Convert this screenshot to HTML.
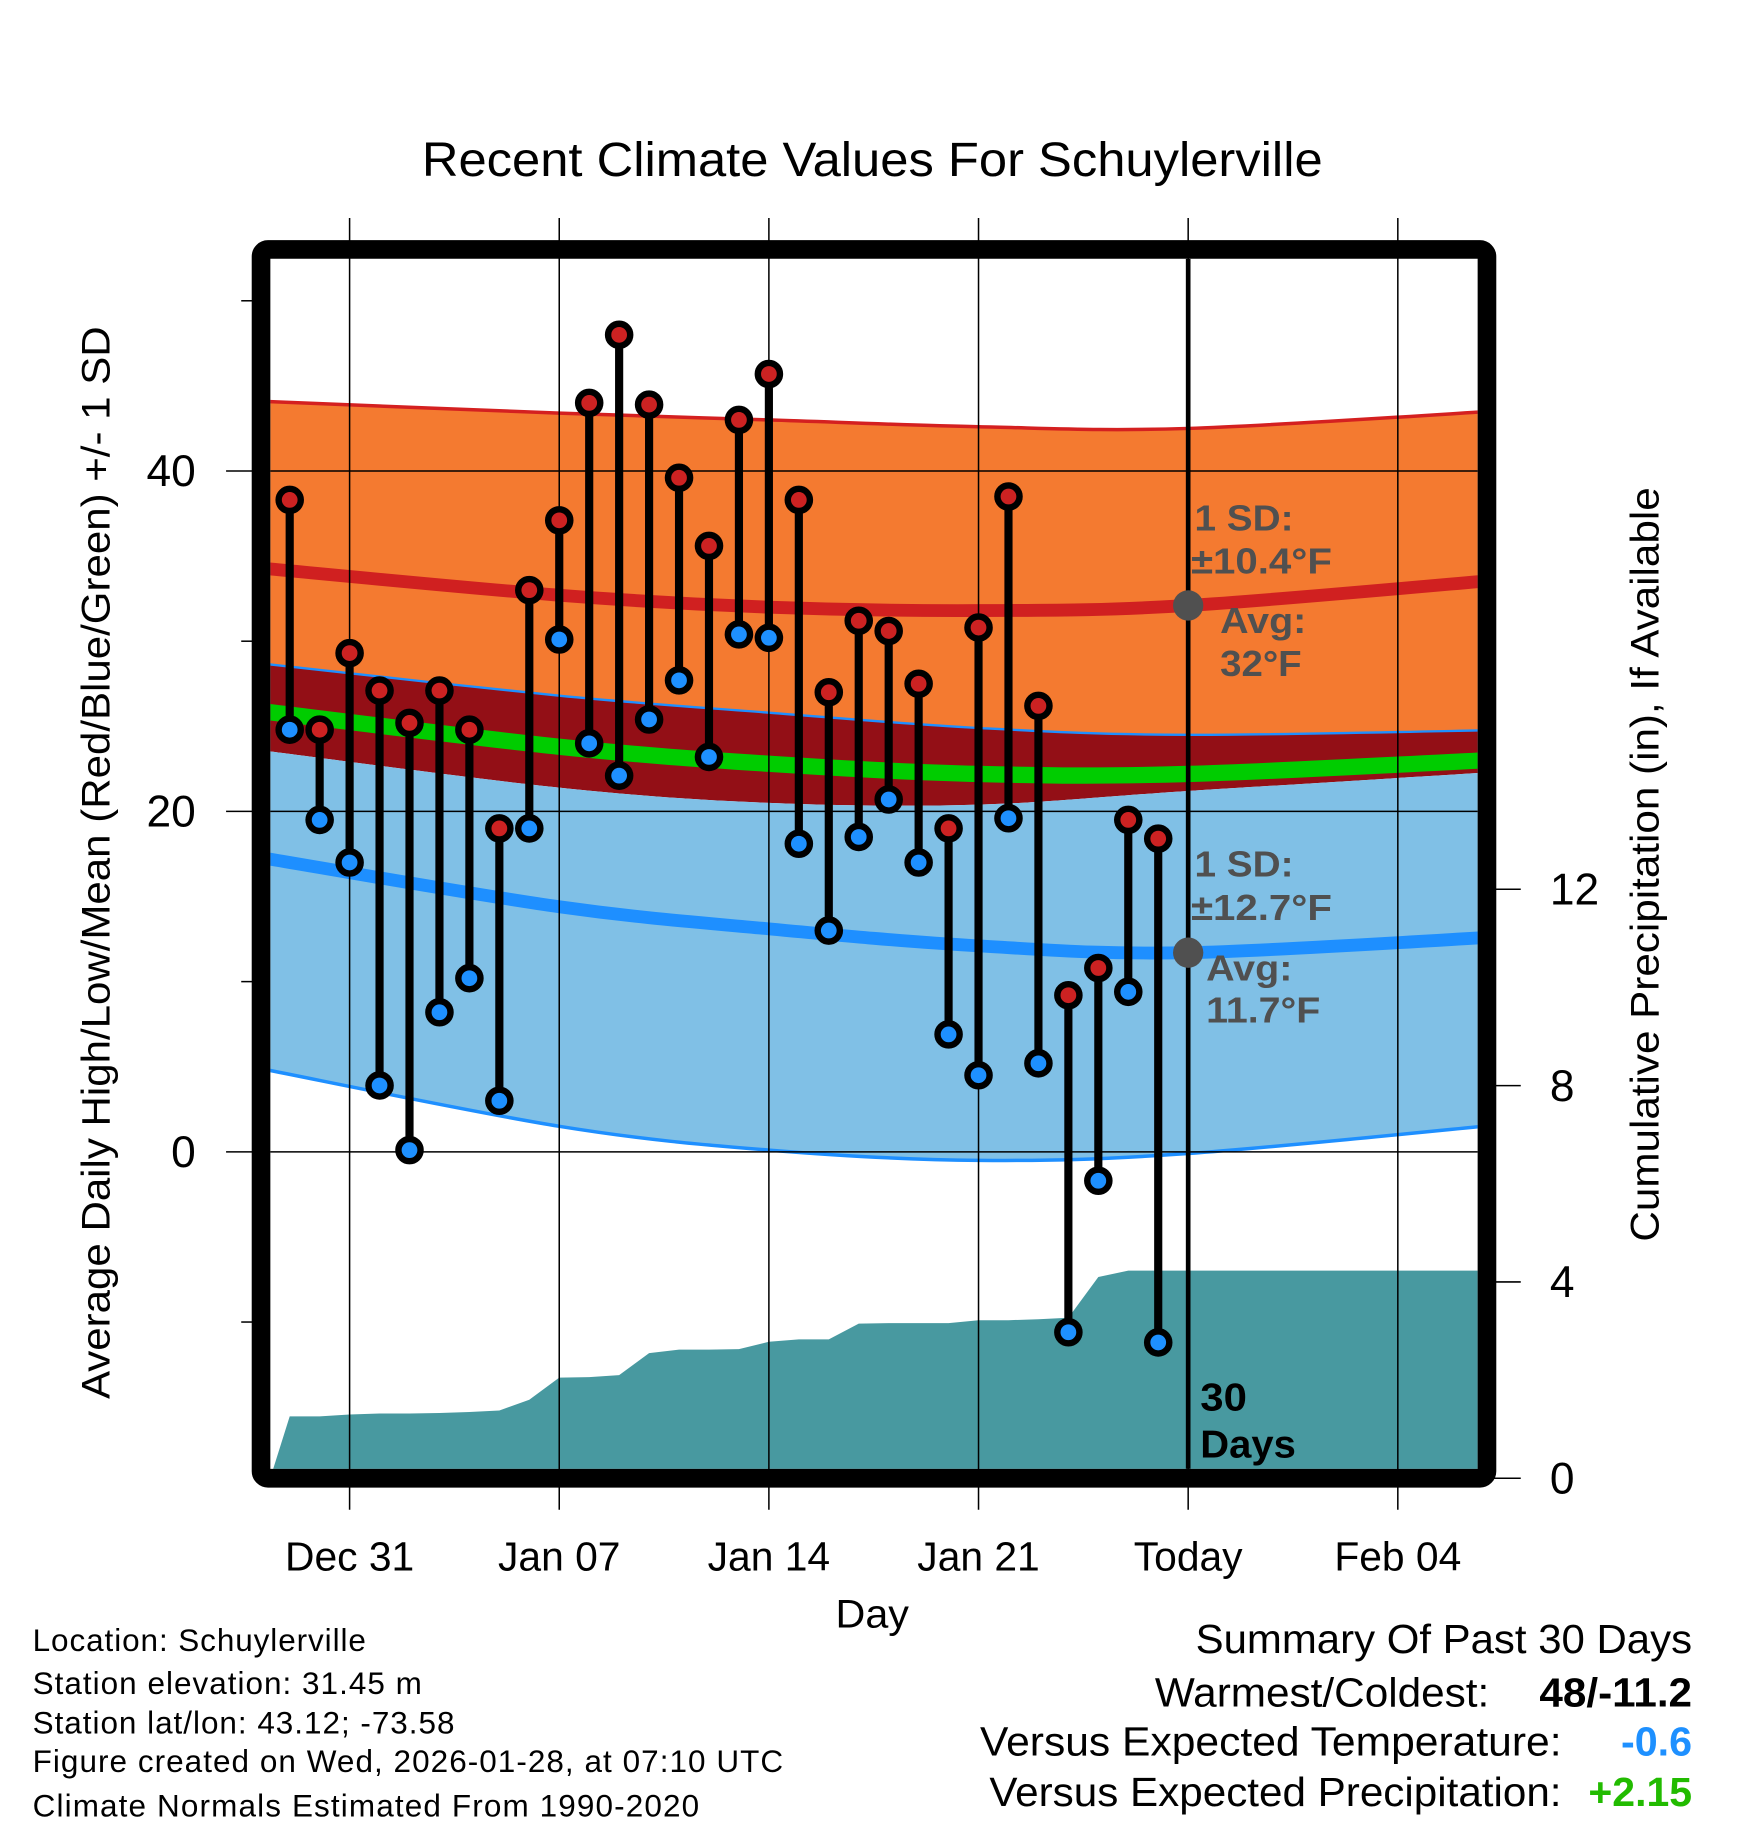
<!DOCTYPE html>
<html><head><meta charset="utf-8"><style>
html,body{margin:0;padding:0;background:#fff;}
svg{display:block;font-family:"Liberation Sans",sans-serif;}
</style></head><body>
<svg id="chart" width="1748" height="1828" viewBox="0 0 1500 1568" preserveAspectRatio="none" xmlns="http://www.w3.org/2000/svg">
<defs><clipPath id="plotclip"><rect x="232" y="222" width="1036" height="1038"/></clipPath></defs>
<rect width="1500" height="1568" fill="#fff"/>
<text x="362" y="151" font-size="41" textLength="773" lengthAdjust="spacingAndGlyphs">Recent Climate Values For Schuylerville</text>
<g id="bands" clip-path="url(#plotclip)"></g>
<g id="grid"></g>
<g id="marks" clip-path="url(#plotclip)"></g>
<g id="annot"></g>
<rect x="224" y="214" width="1052" height="1054" rx="6" fill="none" stroke="#000" stroke-width="16"/>
<g id="axes"></g>
<text x="717" y="1396" font-size="34" textLength="63" lengthAdjust="spacingAndGlyphs">Day</text>
<text transform="translate(94,1200) rotate(-90)" font-size="34" textLength="920" lengthAdjust="spacingAndGlyphs">Average Daily High/Low/Mean (Red/Blue/Green) +/- 1 SD</text>
<text transform="translate(1423,1065) rotate(-90)" font-size="34" textLength="647" lengthAdjust="spacingAndGlyphs">Cumulative Precipitation (in), If Available</text>
<g font-size="27" lengthAdjust="spacingAndGlyphs">
<text x="28" y="1416" textLength="286">Location: Schuylerville</text>
<text x="28" y="1453" textLength="334">Station elevation: 31.45 m</text>
<text x="28" y="1487" textLength="362">Station lat/lon: 43.12; -73.58</text>
<text x="28" y="1520" textLength="644">Figure created on Wed, 2026-01-28, at 07:10 UTC</text>
<text x="28" y="1558" textLength="572">Climate Normals Estimated From 1990-2020</text>
</g>
<g font-size="35">
<text x="1026" y="1418" textLength="426" lengthAdjust="spacingAndGlyphs">Summary Of Past 30 Days</text>
<text x="991" y="1464" textLength="287" lengthAdjust="spacingAndGlyphs">Warmest/Coldest:</text>
<text x="1321" y="1464" font-weight="bold" textLength="131" lengthAdjust="spacingAndGlyphs">48/-11.2</text>
<text x="841" y="1506" textLength="499" lengthAdjust="spacingAndGlyphs">Versus Expected Temperature:</text>
<text x="1391" y="1506" font-weight="bold" fill="#1e90ff" textLength="61" lengthAdjust="spacingAndGlyphs">-0.6</text>
<text x="849" y="1549" textLength="491" lengthAdjust="spacingAndGlyphs">Versus Expected Precipitation:</text>
<text x="1363" y="1549" font-weight="bold" fill="#22bb00" textLength="89" lengthAdjust="spacingAndGlyphs">+2.15</text>
</g>
</svg>
<script>
// day index 0 = Dec 28
const xTickLabels = ["Dec 31","Jan 07","Jan 14","Jan 21","Today","Feb 04"];
const xTickDays = [3,10,17,24,31,38];
const yTicks = [-10,0,10,20,30,40,50];
const yLabels = [0,20,40];
const pTicks = [0,4,8,12];
const obsDays = [1,2,3,4,5,6,7,8,9,10,11,12,13,14,15,16,17,18,19,20,21,22,23,24,25,26,27,28,29,30];
const highs = [38.3,24.8,29.3,27.1,25.2,27.1,24.8,19.0,33.0,37.1,44.0,48.0,43.9,39.6,35.6,43.0,45.7,38.3,27.0,31.2,30.6,27.5,19.0,30.8,38.5,26.2,9.2,10.8,19.5,18.4];
const lows = [24.8,19.5,17.0,3.9,0.1,8.2,10.2,3.0,19.0,30.1,24.0,22.1,25.4,27.7,23.2,30.4,30.2,18.1,13.0,18.5,20.7,17.0,6.9,4.5,19.6,5.2,-10.6,-1.7,9.4,-11.2];
const precip = [1.26,1.26,1.30,1.32,1.32,1.33,1.35,1.38,1.60,2.05,2.06,2.10,2.55,2.62,2.62,2.63,2.78,2.83,2.83,3.15,3.16,3.16,3.16,3.22,3.22,3.24,3.27,4.10,4.23,4.23];
const normDays = [0,10,17,24,31,42];
const highPlus = [44.1,43.4,43.0,42.6,42.5,43.6];
const highAvg = [34.3,32.7,32.0,31.8,32.1,33.7];
const highMinus = [28.7,26.8,25.8,24.9,24.5,24.8];
const meanAvg = [25.9,23.8,22.8,22.2,22.2,23.1];
const lowPlus = [23.6,21.4,20.5,20.4,21.2,22.4];
const lowAvg = [17.3,14.4,13.1,12.1,11.7,12.7];
const lowMinus = [4.9,1.5,0.1,-0.5,-0.1,1.7];

const NS="http://www.w3.org/2000/svg";
const X = d => 300 + (d-3)*25.7;
const Y = v => 988 - v*14.6;
const P = p => 1268 - p*42.1;
function mk(tag, attrs, parent){const e=document.createElementNS(NS,tag);for(const k in attrs)e.setAttribute(k,attrs[k]);parent.appendChild(e);return e;}
const bands=document.getElementById('bands'),grid=document.getElementById('grid'),marks=document.getElementById('marks'),annot=document.getElementById('annot'),axes=document.getElementById('axes');
// smooth (Catmull-Rom) path segments through the sampled normal points
function smooth(p){let s='';for(let i=0;i<p.length-1;i++){const p0=p[Math.max(i-1,0)],p1=p[i],p2=p[i+1],p3=p[Math.min(i+2,p.length-1)];
 const c1=[p1[0]+(p2[0]-p0[0])/6,p1[1]+(p2[1]-p0[1])/6],c2=[p2[0]-(p3[0]-p1[0])/6,p2[1]-(p3[1]-p1[1])/6];
 s+=' C'+c1[0]+','+c1[1]+' '+c2[0]+','+c2[1]+' '+p2[0]+','+p2[1];}return s;}
function ptsOf(arr){return normDays.map((d,i)=>[X(d),Y(arr[i])]);}
function pathOf(arr){const p=ptsOf(arr);return 'M'+p[0][0]+','+p[0][1]+smooth(p);}
function band(top,bot,fill,name){const a=ptsOf(top),b=ptsOf(bot).reverse();
 const d='M'+a[0][0]+','+a[0][1]+smooth(a)+' L'+b[0][0]+','+b[0][1]+smooth(b)+' Z';
 const e=mk('path',{d:d,fill:fill},bands);

}
function line(arr,color,w,name){const e=mk('path',{d:pathOf(arr),fill:'none',stroke:color,'stroke-width':w},bands);

}
band(highPlus,highMinus,'#f47a30','high-sd-band');
band(highMinus,lowPlus,'#930f16','overlap-band');
band(lowPlus,lowMinus,'#80c0e6','low-sd-band');
line(highPlus,'#d42020',3,'high-plus-sd-line');
line(highMinus,'#1e8fff',2,'high-minus-sd-line');
line(lowMinus,'#1e8fff',3,'low-minus-sd-line');
line(highAvg,'#d02020',11,'avg-high-line');
line(meanAvg,'#00cc00',14,'avg-mean-line');
line(lowAvg,'#1e8fff',11,'avg-low-line');
// precip area
let pp=X(0.35)+','+P(0);
obsDays.forEach((d,i)=>{pp+=' '+X(d)+','+P(precip[i]);});
pp+=' '+X(42)+','+P(precip[precip.length-1])+' '+X(42)+','+P(0);
const pa=mk('polygon',{points:pp,fill:'#4899a0'},bands);


// grid
xTickDays.forEach((d,i)=>{
 const g=mk('line',{x1:X(d),x2:X(d),y1:187,y2:1295,stroke:'#000','stroke-width':1.3},grid);
 
 
 const t=mk('text',{x:X(d),y:1347,'font-size':35,'text-anchor':'middle'},axes);t.textContent=xTickLabels[i];
 
 
});
yTicks.forEach(v=>{
 const major=yLabels.includes(v);
 if(major){const g=mk('line',{x1:232,x2:1268,y1:Y(v),y2:Y(v),stroke:'#000','stroke-width':1.3},grid);
 
 
 const t=mk('text',{x:168,y:Y(v)+13,'font-size':38,'text-anchor':'end'},axes);t.textContent=v;
 
 }
 const tk=mk('line',{x1:major?194:207,x2:220,y1:Y(v),y2:Y(v),stroke:'#000','stroke-width':1.3},axes);
 
 
});
pTicks.forEach(p=>{
 const tk=mk('line',{x1:1280,x2:1305,y1:P(p),y2:P(p),stroke:'#000','stroke-width':1.3},axes);
 
 
 const t=mk('text',{x:1330,y:P(p)+13,'font-size':38},axes);t.textContent=p;
 
 
});
// today line
const tl=mk('line',{x1:X(31),x2:X(31),y1:222,y2:1260,stroke:'#000','stroke-width':4},marks);


// stems
obsDays.forEach((d,i)=>{
 const s=mk('line',{x1:X(d),x2:X(d),y1:Y(highs[i]),y2:Y(lows[i]),stroke:'#000','stroke-width':7},marks);
 
 
});
obsDays.forEach((d,i)=>{
 const h=mk('circle',{cx:X(d),cy:Y(highs[i]),r:9.5,fill:'#cc2222',stroke:'#000','stroke-width':5.5},marks);
 
 
 const l=mk('circle',{cx:X(d),cy:Y(lows[i]),r:9.5,fill:'#1e90ff',stroke:'#000','stroke-width':5.5},marks);
 
 
});
// annotations
const c1=mk('circle',{cx:X(31),cy:Y(highAvg[4]),r:13,fill:'#505050'},annot);


const c2=mk('circle',{cx:X(31),cy:Y(lowAvg[4]),r:13,fill:'#505050'},annot);


function txt(s,x,y,name,w,col,size){const t=mk('text',{x:x,y:y,'font-size':size||31,'font-weight':'bold',fill:col||'#505050',textLength:w,lengthAdjust:'spacingAndGlyphs'},annot);t.textContent=s;

}
txt('1 SD:',1025,455,'high-sd-label',85);
txt('±10.4°F',1022,492,'high-sd-value',121);
txt('Avg:',1047,543,'high-avg-label',74);
txt('32°F',1047,580,'high-avg-value',70);
txt('1 SD:',1025,752,'low-sd-label',85);
txt('±12.7°F',1022,789,'low-sd-value',121);
txt('Avg:',1035,841,'low-avg-label',74);
txt('11.7°F',1035,877,'low-avg-value',98);
txt('30',1030,1210,'days-count',40,'#000',33);
txt('Days',1030,1250,'days-label',82,'#000',33);
</script>
</body></html>
